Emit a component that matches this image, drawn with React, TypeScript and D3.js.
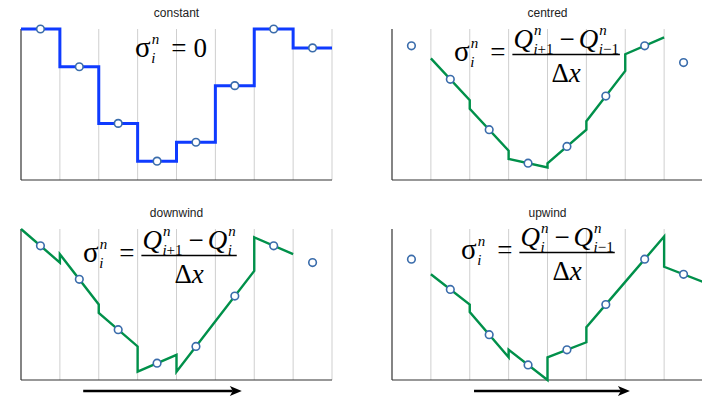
import React, { useEffect, useRef } from 'react';
import * as d3 from 'd3';

const WIDTH = 702;
const HEIGHT = 400;

// cell averages Q_i^n, the same in every panel
const cells = [0, 1, 2, 3, 4, 5, 6, 7];
const cellAverages = [4, 3, 1.5, 0.5, 1, 2.5, 4, 3.5];

const panelTitles = ['constant', 'centred', 'downwind', 'upwind'];
const yMaxima = [4, 4.5, 4.5, 5];

// change of the reconstruction across one cell (null = ghost cell, no line)
const constantSlopes = [0, 0, 0, 0, 0, 0, 0, 0];
const centredSlopes = [null, -1.25, -1.25, -0.25, 1, 1.5, 0.5, null];
const downwindSlopes = [-1, -1.5, -1, 0.5, 1.5, 1.5, -0.5, null];
const upwindSlopes = [null, -1, -1.5, -1, 0.5, 1.5, 1.5, -0.5];

// arrow extent in cell units (only the two lower panels)
const arrowStarts = [null, null, 1.6, 2.11];
const arrowEnds = [null, null, 5.68, 6.12];

const SERIF = '"Liberation Serif", "Times New Roman", serif';
const SANS = '"Liberation Sans", Arial, sans-serif';
const MAIN = 27;
const SCRIPT = 15;

type Parts = [string, boolean][];
type Atom = { t: string; italic?: boolean; size?: number; sup?: Parts; sub?: Parts; gap?: number; gapAfter?: number };

const sigma: Atom = { t: 'σ', size: 29, sup: [['n', true]], sub: [['i', true]] };
const equals: Atom = { t: '=', gap: 12, gapAfter: 7 };
const minus: Atom = { t: '−', gap: 6, gapAfter: 4 };
const Qip1: Atom = { t: 'Q', italic: true, sup: [['n', true]], sub: [['i', true], ['+1', false]] };
const Qim1: Atom = { t: 'Q', italic: true, sup: [['n', true]], sub: [['i', true], ['−1', false]] };
const Qi: Atom = { t: 'Q', italic: true, sup: [['n', true]], sub: [['i', true]] };
const dx: Atom[] = [{ t: 'Δ' }, { t: 'x', italic: true }];

const formulaNumerators: (Atom[] | null)[] = [null, [Qip1, minus, Qim1], [Qip1, minus, Qi], [Qi, minus, Qim1]];

const panels = [
  { left: 21, top: 29, slopes: constantSlopes, color: '#0f3bff', lw: 3, fx: 135, fy: 57 },
  { left: 392, top: 29, slopes: centredSlopes, color: '#00904a', lw: 2.4, fx: 454, fy: 61 },
  { left: 21, top: 229, slopes: downwindSlopes, color: '#00904a', lw: 2.4, fx: 83, fy: 262 },
  { left: 392, top: 229, slopes: upwindSlopes, color: '#00904a', lw: 2.4, fx: 461, fy: 259 },
];
const PW = 311;
const PH = 151;

function addText(g: any, x: number, y: number, size: number, parts: Parts) {
  const t = g.append('text').attr('x', x).attr('y', y)
    .attr('font-family', SERIF).attr('font-size', size).attr('fill', '#000');
  parts.forEach(([s, it]) => t.append('tspan').attr('font-style', it ? 'italic' : 'normal').text(s));
  return (t.node() as SVGTextElement).getComputedTextLength();
}

function drawRow(g: any, atoms: Atom[], x: number, y: number) {
  let cx = x;
  atoms.forEach(a => {
    if (a.gap) cx += a.gap;
    const w = addText(g, cx, y, a.size || MAIN, [[a.t, !!a.italic]]);
    let extra = 0;
    if (a.sup) extra = Math.max(extra, addText(g, cx + w + 1, y - 13, SCRIPT, a.sup) + 1);
    if (a.sub) extra = Math.max(extra, addText(g, cx + w + 0.5, y + 6, SCRIPT, a.sub) + 0.5);
    cx += w + extra;
    if (a.gapAfter) cx += a.gapAfter;
  });
  return cx - x;
}

function drawFraction(g: any, num: Atom[], den: Atom[], x: number, y: number) {
  const ng = g.append('g');
  const nw = drawRow(ng, num, 0, y - 13);
  const dg = g.append('g');
  const dw = drawRow(dg, den, 0, y + 21);
  const w = Math.max(nw, dw) + 2;
  ng.attr('transform', `translate(${x + (w - nw) / 2},0)`);
  dg.attr('transform', `translate(${x + (w - dw) / 2},0)`);
  g.append('line').attr('x1', x).attr('x2', x + w).attr('y1', y - 6.5).attr('y2', y - 6.5)
    .attr('stroke', '#000').attr('stroke-width', 1.3);
}

const App = () => {
  const ref = useRef<SVGSVGElement>(null);

  useEffect(() => {
    const svg = d3.select(ref.current);
    svg.selectAll('*').remove();

    panels.forEach((p, k) => {
      const g = svg.append('g');
      const x = d3.scaleLinear().domain([0, cells.length]).range([p.left, p.left + PW]);
      const y = d3.scaleLinear().domain([0, yMaxima[k]]).range([p.top + PH, p.top]);
      const bottom = p.top + PH;

      // grid lines at cell boundaries
      g.selectAll('.grid').data(cells.map(c => c + 1)).enter().append('line')
        .attr('x1', d => x(d)).attr('x2', d => x(d))
        .attr('y1', p.top).attr('y2', bottom)
        .attr('stroke', '#cfcfcf').attr('stroke-width', 1);

      // axes
      g.append('line').attr('x1', x(0)).attr('x2', x(0)).attr('y1', p.top).attr('y2', bottom)
        .attr('stroke', '#333').attr('stroke-width', 1.2);
      g.append('line').attr('x1', x(0)).attr('x2', x(cells.length)).attr('y1', bottom).attr('y2', bottom)
        .attr('stroke', '#333').attr('stroke-width', 1.2);

      // title
      g.append('text').attr('x', x(cells.length / 2)).attr('y', p.top - 12.5)
        .attr('text-anchor', 'middle').attr('font-family', SANS).attr('font-size', 12)
        .attr('fill', '#222').text(panelTitles[k]);

      // formula
      const fg = g.append('g');
      const lw = drawRow(fg, [sigma, equals], p.fx, p.fy);
      const num = formulaNumerators[k];
      if (num) drawFraction(fg, num, dx, p.fx + lw, p.fy);
      else drawRow(fg, [{ t: '0' }], p.fx + lw, p.fy);

      // piecewise linear reconstruction
      const pts: [number, number][] = [];
      cells.forEach((c, i) => {
        const s = p.slopes[i];
        if (s == null) return;
        pts.push([c, cellAverages[i] - s / 2], [c + 1, cellAverages[i] + s / 2]);
      });
      const line = d3.line<[number, number]>().x(d => x(d[0])).y(d => y(d[1]));
      g.append('path').attr('d', line(pts)).attr('fill', 'none')
        .attr('stroke', p.color).attr('stroke-width', p.lw).attr('stroke-linejoin', 'miter');

      // cell averages
      g.selectAll('.pt').data(cells).enter().append('circle')
        .attr('cx', c => x(c + 0.5)).attr('cy', (c, i) => y(cellAverages[i]))
        .attr('r', 3.8).attr('fill', '#fff').attr('stroke', '#3a6cab').attr('stroke-width', 1.6);

      // wind direction arrow
      const a0 = arrowStarts[k];
      const a1 = arrowEnds[k];
      if (a0 != null && a1 != null) {
        const ay = bottom + 11;
        g.append('line').attr('x1', x(a0)).attr('x2', x(a1) - 9).attr('y1', ay).attr('y2', ay)
          .attr('stroke', '#000').attr('stroke-width', 2.6);
        g.append('path')
          .attr('d', `M${x(a1)},${ay} L${x(a1) - 12},${ay - 5} L${x(a1) - 9},${ay} L${x(a1) - 12},${ay + 5} Z`)
          .attr('fill', '#000');
      }
    });
  }, []);

  return (
    <svg ref={ref} width={WIDTH} height={HEIGHT}
      style={{ position: 'absolute', left: 0, top: 0, background: '#fff' }} />
  );
};

export default App;
